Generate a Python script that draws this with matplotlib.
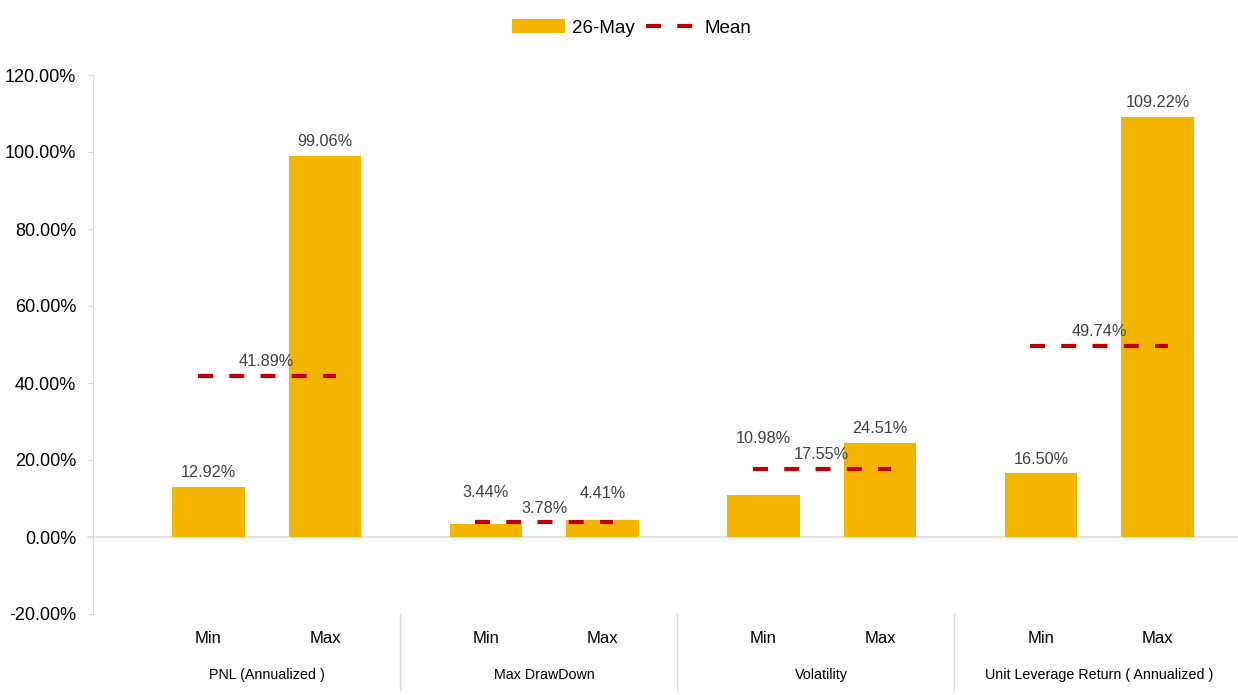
import matplotlib.pyplot as plt
import matplotlib.ticker as ticker
from matplotlib.patches import Patch
from matplotlib.lines import Line2D
from matplotlib.transforms import blended_transform_factory

plt.rcParams['font.family'] = ['Liberation Sans', 'DejaVu Sans']

# Data (percent)
groups = ['PNL (Annualized )', 'Max DrawDown', 'Volatility', 'Unit Leverage Return ( Annualized )']
sub_labels = ['Min', 'Max']
min_vals = [12.92, 3.44, 10.98, 16.50]
max_vals = [99.06, 4.41, 24.51, 109.22]
mean_vals = [41.89, 3.78, 17.55, 49.74]
series_name = '26-May'

# extra lift (points) of some bar labels, as placed in the original
min_lift = [0, 12, 30, 0]
max_lift = [0, 9, 0, 0]

BAR_COLOR = '#F5B400'
MEAN_COLOR = '#C00000'
GRID_COLOR = '#D9D9D9'
LABEL_COLOR = '#404040'

fig = plt.figure(figsize=(12.38, 6.95), dpi=100)
ax = fig.add_axes([93 / 1238, 81 / 695, 1 - 93 / 1238, 539 / 695])

off = 0.21
w = 0.262
xs_min = [g - off for g in range(len(groups))]
xs_max = [g + off for g in range(len(groups))]

ax.bar(xs_min, min_vals, w, color=BAR_COLOR, zorder=2)
ax.bar(xs_max, max_vals, w, color=BAR_COLOR, zorder=2)

for x, v, lift in zip(xs_min + xs_max, min_vals + max_vals, min_lift + max_lift):
    ax.annotate(f'{v:.2f}%', (x, v), xytext=(0, 5 + lift), textcoords='offset points',
                ha='center', va='bottom', fontsize=11.7, color=LABEL_COLOR, zorder=4)

# Mean lines
for g, m in enumerate(mean_vals):
    ax.plot([g - 0.248, g + 0.248], [m, m], color=MEAN_COLOR, lw=3,
            dashes=(3.6, 3.9), solid_capstyle='butt', dash_capstyle='butt', zorder=3)
    ax.annotate(f'{m:.2f}%', (g, m), xytext=(0, 5), textcoords='offset points',
                ha='center', va='bottom', fontsize=11.7, color=LABEL_COLOR, zorder=4)

ax.set_xlim(-0.626, 3.5)
ax.set_ylim(-20, 120)
ax.yaxis.set_major_locator(ticker.MultipleLocator(20))
ax.yaxis.set_major_formatter(ticker.FuncFormatter(lambda v, p: f'{v:.2f}%'))
ax.tick_params(axis='y', length=3.6, color=GRID_COLOR, labelsize=13, pad=8.5)
ax.tick_params(axis='x', length=0, labelsize=12, pad=12)

ax.set_xticks(xs_min + xs_max)
ax.set_xticklabels(sub_labels[:1] * len(groups) + sub_labels[1:] * len(groups))

for s in ['top', 'right', 'bottom']:
    ax.spines[s].set_visible(False)
ax.spines['left'].set_color(GRID_COLOR)

# zero line
ax.plot([-0.645, 3.5], [0, 0], color=GRID_COLOR, lw=1.2, clip_on=False, zorder=1)

# group labels and separators below axis
trans = blended_transform_factory(ax.transData, ax.transAxes)
for g, name in enumerate(groups):
    ax.text(g, -0.113, name, transform=trans, ha='center', va='center', fontsize=10.3, color='#000000')
for sx in [0.48, 1.478, 2.478]:
    ax.plot([sx, sx], [0, -0.141], transform=trans, color=GRID_COLOR, lw=1, clip_on=False)

handles = [Patch(facecolor=BAR_COLOR, label=series_name),
           Line2D([0], [0], color=MEAN_COLOR, lw=3, dashes=(3.6, 3.9), label='Mean')]
fig.legend(handles=handles, loc='center', bbox_to_anchor=(0.5105, 1 - 28 / 695), ncol=2,
           frameon=False, fontsize=13.5, handlelength=2.8, handleheight=0.7,
           columnspacing=0.6, handletextpad=0.35)

plt.savefig('out.png', dpi=100)
plt.close()
